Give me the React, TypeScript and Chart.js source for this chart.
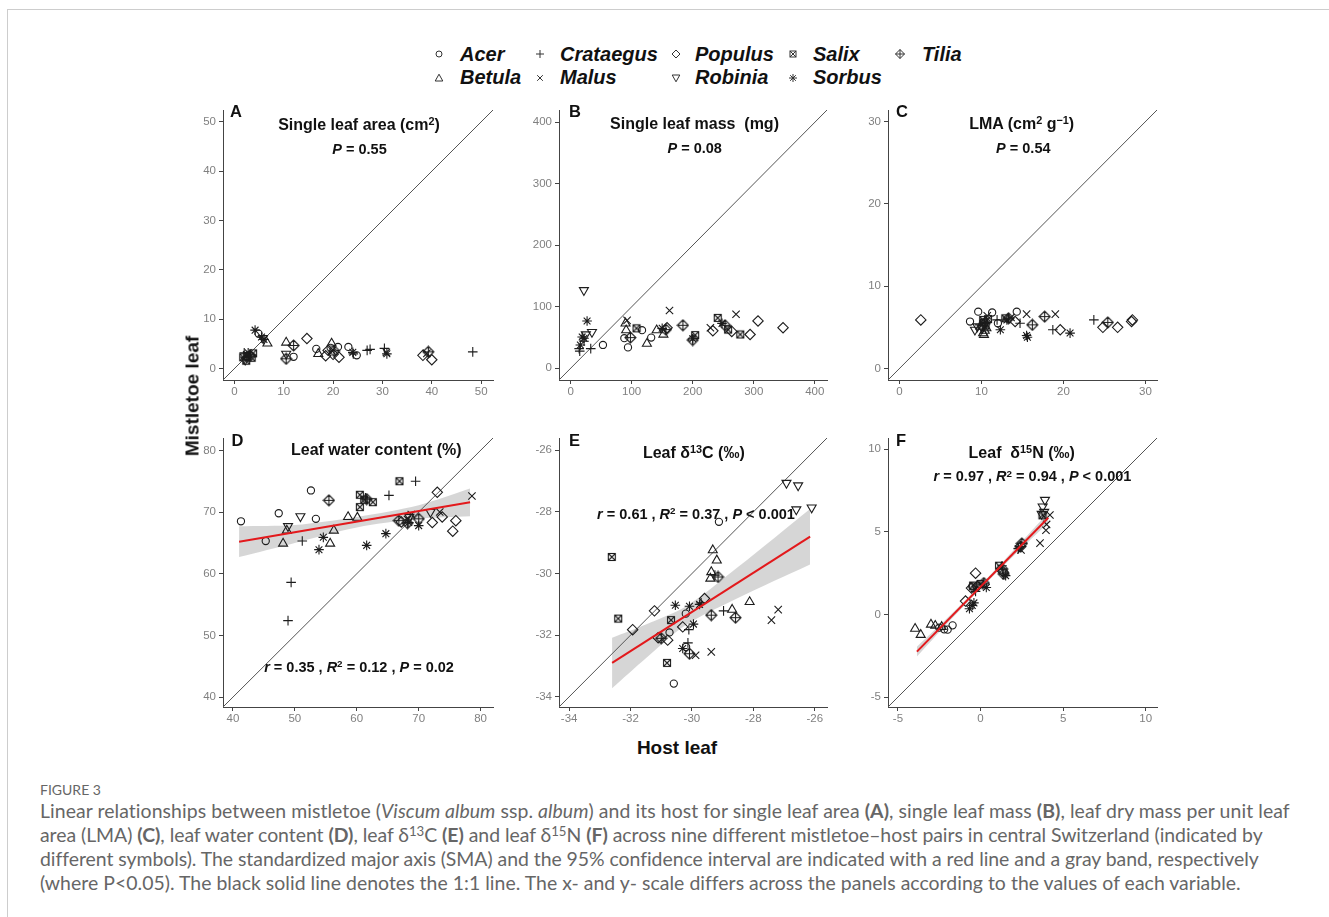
import React, { useEffect, useRef } from "react";
import { Chart, registerables } from "chart.js";

Chart.register(...registerables);

type Pt = [number, number];

/* ---------------- species ---------------- */
const SPECIES = ["Acer", "Betula", "Crataegus", "Malus", "Populus", "Robinia", "Salix", "Sorbus", "Tilia"];
const LEGEND_ROW1 = ["Acer", "Crataegus", "Populus", "Salix", "Tilia"];
const LEGEND_ROW2 = ["Betula", "Malus", "Robinia", "Sorbus"];

/* ---------------- A: single leaf area (cm2) ---------------- */
const A_ACER: Pt[] = [[4.9, 7.1], [12, 2.4], [16.6, 4.0], [19.5, 4.2], [21, 4.4], [23.1, 4.4], [24.8, 2.7]];
const A_BETULA: Pt[] = [[6.7, 5.1], [10.5, 5.3], [17, 3.0], [19.7, 5.1], [2.5, 2.3]];
const A_CRATAEGUS: Pt[] = [[24.1, 3.0], [26.9, 3.7], [27.5, 3.9], [30.4, 4.1], [48.3, 3.4], [2, 3.2]];
const A_MALUS: Pt[] = [[2.5, 2.8], [19.8, 3.6], [30.8, 3.3], [39, 3.1]];
const A_POPULUS: Pt[] = [[14.7, 6.1], [18.5, 2.6], [20, 2.9], [21.2, 2.3], [38.2, 2.7], [40, 1.8], [19, 3.7]];
const A_ROBINIA: Pt[] = [[10.5, 3.0], [2.2, 1.8], [5.8, 6.2]];
const A_SALIX: Pt[] = [[1.8, 2.3], [2.6, 2.6], [3.5, 2.2], [2.4, 1.6], [3.8, 3.1]];
const A_SORBUS: Pt[] = [[4.2, 7.8], [5.5, 6.4], [6, 5.9], [2.8, 3.2], [30.9, 3.0], [24, 3.3]];
const A_TILIA: Pt[] = [[12, 4.7], [10.5, 2.0], [39.3, 3.4], [20.2, 3.6], [3.2, 2.6]];
const A_TICKS = [0, 10, 20, 30, 40, 50];
const A_LIM = [-2.3, 52.4];

/* ---------------- B: single leaf mass (mg) ---------------- */
const B_ACER: Pt[] = [[53, 38], [88, 49], [94, 34], [117, 62], [132, 50]];
const B_BETULA: Pt[] = [[90, 73], [91, 62], [125, 40], [141, 62], [152, 55]];
const B_CRATAEGUS: Pt[] = [[33, 32], [14, 32], [22, 44], [15, 28]];
const B_MALUS: Pt[] = [[92.5, 78], [162, 94], [229, 66], [271, 88]];
const B_POPULUS: Pt[] = [[158, 66], [233, 61], [264, 60], [294, 55], [307, 77], [348, 66]];
const B_ROBINIA: Pt[] = [[21.8, 127], [35, 59], [25, 55]];
const B_SALIX: Pt[] = [[108, 65], [204, 54], [241, 82], [258, 63], [278, 55]];
const B_SORBUS: Pt[] = [[27, 77], [19, 51], [22, 49], [16, 38], [150, 65], [200, 48], [248, 73]];
const B_TILIA: Pt[] = [[98, 50], [156, 63], [184, 70], [200, 46], [253, 70]];
const B_TICKS = [0, 100, 200, 300, 400];
const B_LIM = [-19, 420];

/* ---------------- C: LMA ---------------- */
const C_ACER: Pt[] = [[9.6, 6.9], [8.6, 5.7], [11.3, 6.8], [14.3, 6.9], [12, 5.5]];
const C_BETULA: Pt[] = [[10.2, 4.3], [10.4, 4.6], [10.6, 4.9], [9.9, 5.1], [10.3, 4.1]];
const C_CRATAEGUS: Pt[] = [[9.8, 5.3], [11.9, 5.9], [14.7, 5.5], [18.7, 4.7], [23.7, 5.9]];
const C_MALUS: Pt[] = [[10.7, 6.4], [15.5, 6.6], [19, 6.6], [13.6, 6.2]];
const C_POPULUS: Pt[] = [[2.6, 5.9], [14.1, 5.7], [19.6, 4.7], [24.8, 5.0], [26.6, 5.0], [28.3, 5.7], [28.4, 5.9]];
const C_ROBINIA: Pt[] = [[9.2, 4.7], [10.1, 4.9], [9.5, 5.1]];
const C_SALIX: Pt[] = [[10.2, 5.9], [10.5, 5.2], [10.8, 6.0], [10.3, 5.6], [12.9, 6.1]];
const C_SORBUS: Pt[] = [[12.3, 4.7], [13.1, 5.9], [15.6, 3.8], [15.5, 4.0], [20.8, 4.3]];
const C_TILIA: Pt[] = [[10.4, 5.5], [13.3, 6.1], [16.2, 5.3], [17.7, 6.3], [25.4, 5.6]];
const C_TICKS = [0, 10, 20, 30];
const C_LIM = [-1.4, 31.4];

/* ---------------- D: leaf water content (%) ---------------- */
const D_ACER: Pt[] = [[41.3, 68.5], [45.3, 65.3], [47.4, 69.8], [52.6, 73.5], [53.4, 68.9]];
const D_BETULA: Pt[] = [[48.1, 64.9], [48.7, 67.0], [55.7, 64.9], [56.3, 67.0], [58.6, 69.2], [60.1, 69.1]];
const D_CRATAEGUS: Pt[] = [[51.2, 65.3], [49.4, 58.6], [48.9, 52.4], [61.4, 72.3], [65.2, 72.7], [69.5, 75.0]];
const D_MALUS: Pt[] = [[68.8, 69.6], [73.4, 70.0], [78.6, 72.6], [68.2, 68.8]];
const D_POPULUS: Pt[] = [[67.2, 68.4], [72.2, 68.3], [73.0, 73.2], [73.8, 69.2], [75.5, 66.9], [76.0, 68.6]];
const D_ROBINIA: Pt[] = [[48.9, 67.7], [50.9, 69.3], [68.5, 69.2], [71.9, 70.0]];
const D_SALIX: Pt[] = [[60.5, 72.8], [60.5, 70.8], [62.6, 71.6], [66.9, 75.0], [61.2, 72.0]];
const D_SORBUS: Pt[] = [[53.9, 63.9], [54.6, 65.9], [61.6, 64.6], [64.7, 66.5], [68.4, 68.3], [70.0, 67.8]];
const D_TILIA: Pt[] = [[55.5, 71.9], [61.6, 72.1], [66.8, 68.6], [70.0, 68.9], [68.2, 68.2]];
const D_TICKS = [40, 50, 60, 70, 80];
const D_LIM = [38.4, 82];
const D_FIT: Pt[] = [[41, 65.2], [78.3, 71.6]];
const D_BAND_X = [41, 50, 60, 70, 78.3];
const D_BAND_HI = [67.7, 67.9, 69.2, 71.1, 73.8];
const D_BAND_LO = [62.7, 65.0, 67.5, 68.9, 69.3];

/* ---------------- E: leaf d13C ---------------- */
const E_ACER: Pt[] = [[-29.12, -28.32], [-30.73, -31.91], [-30.19, -32.38], [-30.59, -33.57], [-30.2, -31.3]];
const E_BETULA: Pt[] = [[-29.32, -29.24], [-29.19, -29.57], [-29.37, -29.95], [-29.4, -30.16], [-28.69, -31.17], [-28.12, -30.92]];
const E_CRATAEGUS: Pt[] = [[-29.25, -30.05], [-30.1, -31.82], [-30.13, -32.25], [-29.7, -30.95], [-28.97, -31.21]];
const E_MALUS: Pt[] = [[-29.88, -32.65], [-29.37, -32.54], [-27.41, -31.51], [-27.19, -31.17]];
const E_POPULUS: Pt[] = [[-31.22, -31.21], [-31.93, -31.82], [-31.1, -32.08], [-30.79, -32.16], [-30.3, -31.73], [-29.59, -30.81]];
const E_ROBINIA: Pt[] = [[-26.92, -27.06], [-26.54, -27.14], [-26.1, -27.86], [-26.6, -27.92]];
const E_SALIX: Pt[] = [[-32.61, -29.46], [-32.4, -31.46], [-30.68, -31.51], [-30.81, -32.9]];
const E_SORBUS: Pt[] = [[-30.54, -31.03], [-30.08, -31.06], [-29.95, -31.64], [-30.3, -32.43], [-29.75, -31.0]];
const E_TILIA: Pt[] = [[-29.15, -30.11], [-31.0, -32.1], [-30.08, -32.6], [-29.37, -31.35], [-28.58, -31.43]];
const E_TICKS = [-34, -32, -30, -28, -26];
const E_LIM = [-34.33, -25.6];
const E_FIT: Pt[] = [[-32.6, -32.9], [-26.15, -28.8]];
const E_BAND_X = [-32.6, -31.5, -30.2, -28.5, -26.15];
const E_BAND_HI = [-32.08, -31.65, -31.07, -29.79, -27.9];
const E_BAND_LO = [-33.72, -32.75, -31.67, -30.79, -29.7];

/* ---------------- F: leaf d15N ---------------- */
const F_ACER: Pt[] = [[-2.5, -0.8], [-2.2, -0.9], [-1.99, -0.92], [-1.69, -0.66], [-0.5, 1.7]];
const F_BETULA: Pt[] = [[-3.96, -0.86], [-3.62, -1.23], [-3.0, -0.61], [-2.74, -0.68], [-2.35, -0.75]];
const F_CRATAEGUS: Pt[] = [[-0.4, 1.5], [0.1, 1.8], [1.3, 2.95], [2.3, 4.0], [-0.3, 1.4]];
const F_MALUS: Pt[] = [[3.6, 4.32], [4.2, 6.02], [3.96, 5.1], [4.0, 5.45], [2.45, 3.9]];
const F_POPULUS: Pt[] = [[-0.91, 0.81], [-0.3, 2.5], [-0.55, 1.6], [-0.2, 1.7], [1.35, 2.6]];
const F_ROBINIA: Pt[] = [[3.9, 6.93], [3.76, 6.53], [3.7, 6.08], [3.85, 6.2]];
const F_SALIX: Pt[] = [[-0.45, 1.75], [0.0, 1.85], [1.12, 2.95], [3.75, 6.0]];
const F_SORBUS: Pt[] = [[-0.67, 0.35], [-0.5, 0.55], [-0.4, 0.7], [0.35, 1.63], [1.52, 2.35], [2.28, 3.98]];
const F_TILIA: Pt[] = [[1.4, 2.45], [1.32, 2.75], [2.42, 4.12], [2.5, 4.3], [0.2, 1.9]];
const F_TICKS = [-5, 0, 5, 10];
const F_LIM = [-5.6, 10.68];
const F_FIT: Pt[] = [[-3.85, -2.25], [4.1, 5.85]];
const F_BAND_X = [-3.85, -2, 0, 2, 4.1];
const F_BAND_HI = [-1.95, -0.2, 1.78, 3.88, 6.15];
const F_BAND_LO = [-2.55, -0.53, 1.56, 3.54, 5.55];

/* ---------------- layout ---------------- */
const SANS = '"Liberation Sans", Arial, Helvetica, sans-serif';
const CAP_FONT = "Lato, 'Open Sans', sans-serif";
const Y_W = 40;
const X_H = 24;
const PAD_T = 10;
const PAD_R = 12;

type Band = { x: number[]; hi: number[]; lo: number[] };
type PanelCfg = {
  id: string;
  left: number; right: number; top: number; bottom: number;
  lim: number[]; ticks: number[]; series: Pt[][];
  fit?: Pt[]; band?: Band;
};

const COLS = [[223, 493], [559, 827], [888, 1157]];
const ROWS = [[110, 380], [438, 707]];

const PANELS: PanelCfg[] = [
  { id: "A", left: COLS[0][0], right: COLS[0][1], top: ROWS[0][0], bottom: ROWS[0][1], lim: A_LIM, ticks: A_TICKS,
    series: [A_ACER, A_BETULA, A_CRATAEGUS, A_MALUS, A_POPULUS, A_ROBINIA, A_SALIX, A_SORBUS, A_TILIA] },
  { id: "B", left: COLS[1][0], right: COLS[1][1], top: ROWS[0][0], bottom: ROWS[0][1], lim: B_LIM, ticks: B_TICKS,
    series: [B_ACER, B_BETULA, B_CRATAEGUS, B_MALUS, B_POPULUS, B_ROBINIA, B_SALIX, B_SORBUS, B_TILIA] },
  { id: "C", left: COLS[2][0], right: COLS[2][1], top: ROWS[0][0], bottom: ROWS[0][1], lim: C_LIM, ticks: C_TICKS,
    series: [C_ACER, C_BETULA, C_CRATAEGUS, C_MALUS, C_POPULUS, C_ROBINIA, C_SALIX, C_SORBUS, C_TILIA] },
  { id: "D", left: COLS[0][0], right: COLS[0][1], top: ROWS[1][0], bottom: ROWS[1][1], lim: D_LIM, ticks: D_TICKS,
    series: [D_ACER, D_BETULA, D_CRATAEGUS, D_MALUS, D_POPULUS, D_ROBINIA, D_SALIX, D_SORBUS, D_TILIA],
    fit: D_FIT, band: { x: D_BAND_X, hi: D_BAND_HI, lo: D_BAND_LO } },
  { id: "E", left: COLS[1][0], right: COLS[1][1], top: ROWS[1][0], bottom: ROWS[1][1], lim: E_LIM, ticks: E_TICKS,
    series: [E_ACER, E_BETULA, E_CRATAEGUS, E_MALUS, E_POPULUS, E_ROBINIA, E_SALIX, E_SORBUS, E_TILIA],
    fit: E_FIT, band: { x: E_BAND_X, hi: E_BAND_HI, lo: E_BAND_LO } },
  { id: "F", left: COLS[2][0], right: COLS[2][1], top: ROWS[1][0], bottom: ROWS[1][1], lim: F_LIM, ticks: F_TICKS,
    series: [F_ACER, F_BETULA, F_CRATAEGUS, F_MALUS, F_POPULUS, F_ROBINIA, F_SALIX, F_SORBUS, F_TILIA],
    fit: F_FIT, band: { x: F_BAND_X, hi: F_BAND_HI, lo: F_BAND_LO } },
];

const MARK: Record<string, { style: string; r: number; rot?: number }> = {
  Acer: { style: "circle", r: 3.6 },
  Betula: { style: "triangle", r: 5.2 },
  Crataegus: { style: "cross", r: 4.8 },
  Malus: { style: "crossRot", r: 5.2 },
  Populus: { style: "rectRot", r: 5.2 },
  Robinia: { style: "triangle", r: 5.2, rot: 180 },
  Salix: { style: "salix", r: 4 },
  Sorbus: { style: "star", r: 4.8 },
  Tilia: { style: "tilia", r: 5.5 },
};

const INK = "#1c1c1c";

function makeSalix(): HTMLCanvasElement {
  const c = document.createElement("canvas");
  c.width = 10; c.height = 10;
  const g = c.getContext("2d")!;
  g.strokeStyle = INK; g.lineWidth = 1.1;
  g.strokeRect(1.5, 1.5, 7, 7);
  g.beginPath();
  g.moveTo(1.5, 1.5); g.lineTo(8.5, 8.5);
  g.moveTo(8.5, 1.5); g.lineTo(1.5, 8.5);
  g.stroke();
  return c;
}

function makeTilia(): HTMLCanvasElement {
  const c = document.createElement("canvas");
  c.width = 13; c.height = 13;
  const g = c.getContext("2d")!;
  g.strokeStyle = INK; g.lineWidth = 1.1;
  g.beginPath();
  g.moveTo(1, 6.5); g.lineTo(6.5, 1); g.lineTo(12, 6.5); g.lineTo(6.5, 12); g.closePath();
  g.moveTo(1, 6.5); g.lineTo(12, 6.5);
  g.moveTo(6.5, 1); g.lineTo(6.5, 12);
  g.stroke();
  return c;
}

function axisOpts(lim: number[], ticks: number[], horizontal: boolean): any {
  return {
    type: "linear",
    min: lim[0],
    max: lim[1],
    afterBuildTicks: (s: any) => { s.ticks = ticks.map((v) => ({ value: v })); },
    afterFit: (s: any) => { if (horizontal) s.height = X_H; else s.width = Y_W; },
    grid: { drawOnChartArea: false, drawTicks: true, tickLength: 4, color: "#444", tickColor: "#444", lineWidth: 1 },
    border: { display: true, color: "#444", width: 1 },
    ticks: {
      color: "#808080",
      font: { family: SANS, size: 11.5 },
      padding: horizontal ? 1 : 3,
      maxRotation: 0,
      autoSkip: false,
      callback: (v: any) => String(v),
    },
  };
}

/* ---------------- text helpers ---------------- */
const supStyle: React.CSSProperties = { fontSize: "0.68em", position: "relative", top: "-0.48em", verticalAlign: "baseline", lineHeight: 0 };

function T(props: { x: number; y: number; size: number; bold?: boolean; italic?: boolean; anchor?: "middle" | "start"; color?: string; children: React.ReactNode }) {
  const { x, y, size, bold, italic, anchor = "middle", color = "#111", children } = props;
  return (
    <div
      style={{
        position: "absolute",
        left: x,
        top: y - 0.8465 * size,
        fontFamily: SANS,
        fontSize: size,
        lineHeight: `${size}px`,
        fontWeight: bold ? 700 : 400,
        fontStyle: italic ? "italic" : "normal",
        color,
        whiteSpace: "pre",
        transform: anchor === "middle" ? "translateX(-50%)" : undefined,
      }}
    >
      {children}
    </div>
  );
}

function Sym({ name, cx, cy }: { name: string; cx: number; cy: number }) {
  const c = { fill: "none", stroke: "#333", strokeWidth: 1 };
  let el: React.ReactNode = null;
  switch (name) {
    case "Acer": el = <circle cx={6} cy={6} r={3} {...c} />; break;
    case "Betula": el = <polygon points="6,2.2 9.8,9 2.2,9" {...c} />; break;
    case "Crataegus": el = <path d="M6 2V10M2 6H10" {...c} />; break;
    case "Malus": el = <path d="M3.2 3.2L8.8 8.8M8.8 3.2L3.2 8.8" {...c} />; break;
    case "Populus": el = <polygon points="6,2 10,6 6,10 2,6" {...c} />; break;
    case "Robinia": el = <polygon points="2.2,3 9.8,3 6,9.8" {...c} />; break;
    case "Salix": el = <g {...c}><rect x={3} y={3} width={6} height={6} /><path d="M3 3L9 9M9 3L3 9" /></g>; break;
    case "Sorbus": el = <path d="M6 2V10M2 6H10M3.2 3.2L8.8 8.8M8.8 3.2L3.2 8.8" {...c} />; break;
    case "Tilia": el = <g {...c}><polygon points="6,1.5 10.5,6 6,10.5 1.5,6" /><path d="M6 1.5V10.5M1.5 6H10.5" /></g>; break;
  }
  return (
    <svg width={12} height={12} style={{ position: "absolute", left: cx - 6, top: cy - 6 }}>
      {el}
    </svg>
  );
}

const LEG_SYM_X = [438.6, 539.5, 676, 793, 900];
const LEG_TXT_X = [460, 560, 695, 813, 922];
const LEG_ROW_Y = [61, 84];

const CAPTION_TARGETS = [1250, 1222, 1218, 1200];

export default function App() {
  const canvasRefs = useRef<(HTMLCanvasElement | null)[]>([]);
  const capRefs = useRef<(HTMLSpanElement | null)[]>([]);
  const capBoxRef = useRef<HTMLDivElement | null>(null);

  useEffect(() => {
    const salix = makeSalix();
    const tilia = makeTilia();
    const charts = PANELS.map((p, i) => {
      const cv = canvasRefs.current[i]!;
      const datasets: any[] = [];
      if (p.band) {
        const b = p.band;
        datasets.push({
          showLine: true, data: b.x.map((x, k) => ({ x, y: b.hi[k] })),
          borderWidth: 0, borderColor: "rgba(0,0,0,0)", pointRadius: 0, fill: false, tension: 0.3, order: 5,
        });
        datasets.push({
          showLine: true, data: b.x.map((x, k) => ({ x, y: b.lo[k] })),
          borderWidth: 0, borderColor: "rgba(0,0,0,0)", pointRadius: 0, tension: 0.3,
          fill: "-1", backgroundColor: "rgba(153,153,153,0.4)", order: 5,
        });
      }
      datasets.push({
        showLine: true,
        data: [{ x: p.lim[0], y: p.lim[0] }, { x: p.lim[1], y: p.lim[1] }],
        borderColor: "#555", borderWidth: 1, pointRadius: 0, fill: false, order: 4,
      });
      SPECIES.forEach((s, k) => {
        const m = MARK[s];
        const style = m.style === "salix" ? salix : m.style === "tilia" ? tilia : m.style;
        datasets.push({
          label: s,
          data: p.series[k].map(([x, y]) => ({ x, y })),
          pointStyle: style,
          pointRadius: m.r,
          pointRotation: m.rot ?? 0,
          borderColor: INK,
          backgroundColor: "rgba(0,0,0,0)",
          borderWidth: 1.1,
          pointBorderWidth: 1.1,
          showLine: false,
          order: 1,
        });
      });
      if (p.fit) {
        datasets.push({
          showLine: true, data: p.fit.map(([x, y]) => ({ x, y })),
          borderColor: "#e3191c", borderWidth: 2, pointRadius: 0, fill: false, order: 0,
        });
      }
      return new Chart(cv, {
        type: "scatter",
        data: { datasets },
        options: {
          responsive: false,
          animation: false,
          events: [],
          layout: { padding: { left: 0, top: PAD_T, right: PAD_R, bottom: 0 } },
          plugins: { legend: { display: false }, tooltip: { enabled: false } },
          scales: {
            x: axisOpts(p.lim, p.ticks, true),
            y: axisOpts(p.lim, p.ticks, false),
          },
        } as any,
      });
    });

    // fit caption lines: one common font size, then per-line letter-spacing remainder
    const spans = capRefs.current;
    const box = capBoxRef.current;
    if (box && spans.every(Boolean)) {
      const base = 17.5;
      box.style.fontSize = `${base}px`;
      let ratio = 0;
      spans.forEach((el, i) => { ratio += CAPTION_TARGETS[i] / el!.getBoundingClientRect().width; });
      ratio /= spans.length;
      box.style.fontSize = `${base * ratio}px`;
      spans.forEach((el, i) => {
        const w = el!.getBoundingClientRect().width;
        const n = (el!.textContent || "").length;
        if (n > 1) el!.style.letterSpacing = `${(CAPTION_TARGETS[i] - w) / n}px`;
      });
    }

    return () => charts.forEach((c) => c.destroy());
  }, []);

  const titles: React.ReactNode[] = [
    <>Single leaf area (cm<span style={supStyle}>2</span>)</>,
    <>Single leaf mass  (mg)</>,
    <>LMA (cm<span style={supStyle}>2</span> g<span style={supStyle}>−1</span>)</>,
    <>Leaf water content (%)</>,
    <>Leaf δ<span style={supStyle}>13</span>C (‰)</>,
    <>Leaf  δ<span style={supStyle}>15</span>N (‰)</>,
  ];
  const titlePos = [[359, 130.5], [694.5, 129.5], [1021.7, 130], [376.3, 456], [693.8, 459], [1021.7, 459]];
  const stats: React.ReactNode[] = [
    <><i>P</i> = 0.55</>,
    <><i>P</i> = 0.08</>,
    <><i>P</i> = 0.54</>,
    <><i>r</i> = 0.35 , <i>R</i><span style={supStyle}>2</span> = 0.12 , <i>P</i> = 0.02</>,
    <><i>r</i> = 0.61 , <i>R</i><span style={supStyle}>2</span> = 0.37 , <i>P</i> &lt; 0.001</>,
    <><i>r</i> = 0.97 , <i>R</i><span style={supStyle}>2</span> = 0.94 , <i>P</i> &lt; 0.001</>,
  ];
  const statPos = [[359.5, 154], [694.7, 153.5], [1023.3, 153.5], [359, 672], [696, 519], [1032.5, 481.5]];
  const letterPos = [[230, 117], [569, 117], [896, 116.5], [231.5, 446], [569, 446], [896, 446]];

  const capLines: React.ReactNode[] = [
    <>Linear relationships between mistletoe (<i>Viscum album</i> ssp. <i>album</i>) and its host for single leaf area <b>(A)</b>, single leaf mass <b>(B)</b>, leaf dry mass per unit leaf</>,
    <>area (LMA) <b>(C)</b>, leaf water content <b>(D)</b>, leaf δ<span style={supStyle}>13</span>C <b>(E)</b> and leaf δ<span style={supStyle}>15</span>N <b>(F)</b> across nine different mistletoe–host pairs in central Switzerland (indicated by</>,
    <>different symbols). The standardized major axis (SMA) and the 95% confidence interval are indicated with a red line and a gray band, respectively</>,
    <>(where P&lt;0.05). The black solid line denotes the 1:1 line. The x- and y- scale differs across the panels according to the values of each variable.</>,
  ];

  return (
    <div style={{ position: "absolute", left: 0, top: 0, width: 1329, height: 917, overflow: "hidden", background: "#fff", fontFamily: SANS }}>
      <div style={{ position: "absolute", left: 7, top: 9, width: 1400, height: 1000, borderLeft: "1px solid #cdcdcd", borderTop: "1px solid #cdcdcd" }} />

      {PANELS.map((p, i) => {
        const w = Y_W + (p.right - p.left) + PAD_R;
        const h = PAD_T + (p.bottom - p.top) + X_H;
        return (
          <canvas
            key={p.id}
            ref={(el) => { canvasRefs.current[i] = el; }}
            width={w}
            height={h}
            style={{ position: "absolute", left: p.left - Y_W, top: p.top - PAD_T, width: w, height: h }}
          />
        );
      })}

      {/* legend */}
      {LEGEND_ROW1.map((s, i) => (
        <React.Fragment key={s}>
          <Sym name={s} cx={LEG_SYM_X[i]} cy={54} />
          <T x={LEG_TXT_X[i]} y={LEG_ROW_Y[0]} size={20} bold italic anchor="start">{s}</T>
        </React.Fragment>
      ))}
      {LEGEND_ROW2.map((s, i) => (
        <React.Fragment key={s}>
          <Sym name={s} cx={LEG_SYM_X[i]} cy={77.5} />
          <T x={LEG_TXT_X[i]} y={LEG_ROW_Y[1]} size={20} bold italic anchor="start">{s}</T>
        </React.Fragment>
      ))}

      {/* panel texts */}
      {PANELS.map((p, i) => (
        <React.Fragment key={"t" + p.id}>
          <T x={letterPos[i][0]} y={letterPos[i][1]} size={16.5} bold anchor="start">{p.id}</T>
          <T x={titlePos[i][0]} y={titlePos[i][1]} size={16} bold>{titles[i]}</T>
          <T x={statPos[i][0]} y={statPos[i][1]} size={14.5} bold>{stats[i]}</T>
        </React.Fragment>
      ))}

      {/* axis titles */}
      <div
        style={{
          position: "absolute", left: 192, top: 396, transform: "translate(-50%, -50%) rotate(-90deg)",
          fontFamily: SANS, fontWeight: 700, fontSize: 19, lineHeight: "19px", color: "#111", whiteSpace: "nowrap",
        }}
      >
        Mistletoe leaf
      </div>
      <T x={677} y={754} size={19} bold>Host leaf</T>

      {/* caption */}
      <div style={{ position: "absolute", left: 40, top: 783, fontFamily: CAP_FONT, fontSize: 14, lineHeight: "14px", color: "#666", whiteSpace: "nowrap" }}>
        FIGURE 3
      </div>
      <div ref={capBoxRef} style={{ position: "absolute", left: 40, top: 799, fontFamily: CAP_FONT, fontSize: 17.5, lineHeight: "24px", color: "#666" }}>
        {capLines.map((l, i) => (
          <div key={i} style={{ height: 24, whiteSpace: "nowrap" }}>
            <span ref={(el) => { capRefs.current[i] = el; }} style={{ whiteSpace: "nowrap" }}>{l}</span>
          </div>
        ))}
      </div>
    </div>
  );
}
